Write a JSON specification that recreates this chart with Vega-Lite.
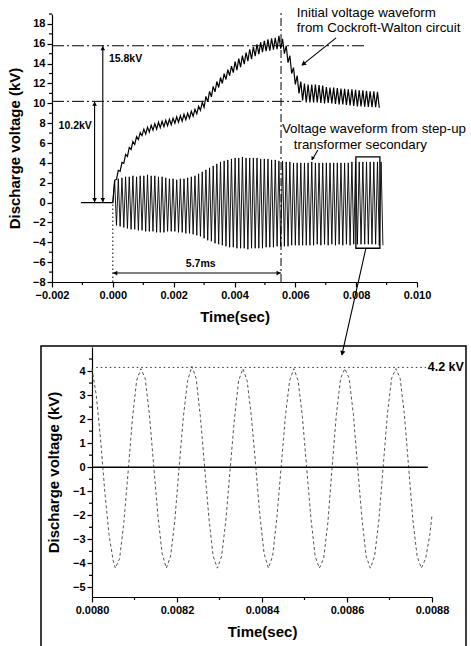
{
"$schema": "https://vega.github.io/schema/vega-lite/v6.json",
"padding": {"left": 7, "top": 6, "right": 0, "bottom": 0},
"config": {
  "font": "Liberation Sans",
  "view": {"stroke": null},
  "axis": {"domainColor": "black", "tickColor": "black", "labelColor": "black", "titleColor": "black", "labelFontSize": 11, "labelFontWeight": "bold", "titleFontSize": 15, "titleFontWeight": "bold", "grid": false, "labelFlush": false, "labelOverlap": false, "domainWidth": 1.2, "tickWidth": 1.2, "tickSize": 5, "labelPadding": 2}
},
"datasets": {
"top": [
{"t":-1.05,"c":0},{"t":0,"c":0,"r":0},
{"t":0.06,"c":2.25,"r":2.2},{"t":0.12,"c":2.35,"r":-2.3},{"t":0.18,"c":3.25,"r":2.4},{"t":0.24,"c":3.15,"r":-2.4},
{"t":0.3,"c":4.05,"r":2.5},{"t":0.36,"c":3.95,"r":-2.5},{"t":0.42,"c":4.85,"r":2.6},{"t":0.48,"c":4.65,"r":-2.6},
{"t":0.54,"c":5.55,"r":2.6},{"t":0.6,"c":5.35,"r":-2.7},{"t":0.66,"c":6.15,"r":2.7},{"t":0.72,"c":5.85,"r":-2.7},
{"t":0.78,"c":6.65,"r":2.6},{"t":0.84,"c":6.35,"r":-2.8},{"t":0.9,"c":7.05,"r":2.7},{"t":0.96,"c":6.75,"r":-2.8},
{"t":1.02,"c":7.4,"r":2.7},{"t":1.08,"c":6.9,"r":-2.9},{"t":1.14,"c":7.6,"r":2.8},{"t":1.2,"c":7.1,"r":-2.9},
{"t":1.26,"c":7.8,"r":2.7},{"t":1.32,"c":7.3,"r":-2.9},{"t":1.38,"c":7.95,"r":2.7},{"t":1.44,"c":7.4,"r":-3.0},
{"t":1.5,"c":8.1,"r":2.6},{"t":1.56,"c":7.55,"r":-3.0},{"t":1.62,"c":8.2,"r":2.6},{"t":1.68,"c":7.65,"r":-3.0},
{"t":1.74,"c":8.3,"r":2.5},{"t":1.8,"c":7.75,"r":-2.9},{"t":1.86,"c":8.4,"r":2.4},{"t":1.92,"c":7.85,"r":-2.9},
{"t":1.98,"c":8.5,"r":2.4},{"t":2.04,"c":8.0,"r":-2.9},{"t":2.1,"c":8.65,"r":2.3},{"t":2.16,"c":8.1,"r":-3.0},
{"t":2.22,"c":8.75,"r":2.4},{"t":2.28,"c":8.2,"r":-3.0},{"t":2.34,"c":8.9,"r":2.4},{"t":2.4,"c":8.35,"r":-3.1},
{"t":2.46,"c":9.0,"r":2.5},{"t":2.52,"c":8.5,"r":-3.1},{"t":2.58,"c":9.2,"r":2.6},{"t":2.64,"c":8.7,"r":-3.2},
{"t":2.7,"c":9.4,"r":2.7},{"t":2.76,"c":8.95,"r":-3.3},{"t":2.82,"c":9.7,"r":2.9},{"t":2.88,"c":9.3,"r":-3.4},
{"t":2.94,"c":10.1,"r":3.1},{"t":3.0,"c":9.6,"r":-3.6},{"t":3.06,"c":10.7,"r":3.3},{"t":3.12,"c":10.15,"r":-3.8},
{"t":3.18,"c":11.2,"r":3.5},{"t":3.24,"c":10.65,"r":-3.9},{"t":3.3,"c":11.7,"r":3.7},{"t":3.36,"c":11.15,"r":-4.1},
{"t":3.42,"c":12.2,"r":3.9},{"t":3.48,"c":11.6,"r":-4.2},{"t":3.54,"c":12.6,"r":4.1},{"t":3.6,"c":12.0,"r":-4.3},
{"t":3.66,"c":13.0,"r":4.2},{"t":3.72,"c":12.4,"r":-4.4},{"t":3.78,"c":13.4,"r":4.3},{"t":3.84,"c":12.8,"r":-4.5},
{"t":3.9,"c":13.75,"r":4.4},{"t":3.96,"c":13.1,"r":-4.5},{"t":4.02,"c":14.2,"r":4.5},{"t":4.08,"c":13.35,"r":-4.6},
{"t":4.14,"c":14.5,"r":4.5},{"t":4.2,"c":13.65,"r":-4.6},{"t":4.26,"c":14.8,"r":4.6},{"t":4.32,"c":13.95,"r":-4.6},
{"t":4.38,"c":15.1,"r":4.5},{"t":4.44,"c":14.25,"r":-4.7},{"t":4.5,"c":15.45,"r":4.5},{"t":4.56,"c":14.45,"r":-4.6},
{"t":4.62,"c":15.7,"r":4.5},{"t":4.68,"c":14.75,"r":-4.6},{"t":4.74,"c":15.95,"r":4.5},{"t":4.8,"c":14.95,"r":-4.6},
{"t":4.86,"c":16.15,"r":4.4},{"t":4.92,"c":15.15,"r":-4.6},{"t":4.98,"c":16.3,"r":4.4},{"t":5.04,"c":15.25,"r":-4.5},
{"t":5.1,"c":16.45,"r":4.4},{"t":5.16,"c":15.3,"r":-4.5},{"t":5.22,"c":16.55,"r":4.3},{"t":5.28,"c":15.4,"r":-4.5},
{"t":5.34,"c":16.6,"r":4.3},{"t":5.4,"c":15.45,"r":-4.4},{"t":5.46,"c":16.8,"r":4.2},{"t":5.52,"c":15.5,"r":-4.4},
{"t":5.58,"c":16.5,"r":4.2},{"t":5.64,"c":15.0,"r":-4.4},{"t":5.7,"c":15.8,"r":4.1},{"t":5.76,"c":14.1,"r":-4.4},
{"t":5.82,"c":14.8,"r":4.1},{"t":5.88,"c":13.0,"r":-4.3},{"t":5.94,"c":13.6,"r":4.0},{"t":6.0,"c":11.9,"r":-4.3},
{"t":6.06,"c":12.8,"r":4.0},{"t":6.12,"c":11.0,"r":-4.3},{"t":6.18,"c":12.2,"r":4.0},{"t":6.24,"c":10.3,"r":-4.3},
{"t":6.3,"c":12.0,"r":4.0},{"t":6.36,"c":10.1,"r":-4.3},{"t":6.42,"c":11.9,"r":4.0},{"t":6.48,"c":10.1,"r":-4.3},
{"t":6.54,"c":11.9,"r":4.1},{"t":6.6,"c":10.1,"r":-4.3},{"t":6.66,"c":11.9,"r":4.0},{"t":6.72,"c":10.1,"r":-4.2},
{"t":6.78,"c":11.85,"r":4.0},{"t":6.84,"c":10.05,"r":-4.3},{"t":6.9,"c":11.8,"r":4.0},{"t":6.96,"c":10.0,"r":-4.2},
{"t":7.02,"c":11.65,"r":4.0},{"t":7.08,"c":10.05,"r":-4.3},{"t":7.14,"c":11.6,"r":4.0},{"t":7.2,"c":10.0,"r":-4.2},
{"t":7.26,"c":11.6,"r":4.0},{"t":7.32,"c":9.95,"r":-4.3},{"t":7.38,"c":11.55,"r":4.0},{"t":7.44,"c":9.9,"r":-4.2},
{"t":7.5,"c":11.5,"r":4.0},{"t":7.56,"c":9.9,"r":-4.3},{"t":7.62,"c":11.45,"r":4.0},{"t":7.68,"c":9.85,"r":-4.2},
{"t":7.74,"c":11.4,"r":4.0},{"t":7.8,"c":9.8,"r":-4.3},{"t":7.86,"c":11.4,"r":4.1},{"t":7.92,"c":9.75,"r":-4.2},
{"t":7.98,"c":11.35,"r":4.1},{"t":8.04,"c":9.7,"r":-4.2},{"t":8.1,"c":11.3,"r":4.1},{"t":8.16,"c":9.7,"r":-4.2},
{"t":8.22,"c":11.3,"r":4.1},{"t":8.28,"c":9.65,"r":-4.2},{"t":8.34,"c":11.25,"r":4.1},{"t":8.4,"c":9.65,"r":-4.2},
{"t":8.46,"c":11.2,"r":4.1},{"t":8.52,"c":9.6,"r":-4.2},{"t":8.58,"c":11.2,"r":4.1},{"t":8.64,"c":9.6,"r":-4.2},
{"t":8.7,"c":11.15,"r":4.1},{"t":8.76,"c":9.55,"r":-4.3},{"t":8.82,"r":4.1},{"t":8.88,"r":-4.3}
],
"bot": [
{"t":8.0,"v":4.1},{"t":8.01,"v":3.0},{"t":8.02,"v":1.2},{"t":8.03,"v":-1.0},{"t":8.04,"v":-2.8},{"t":8.05,"v":-3.9},
{"t":8.055,"v":-4.2},{"t":8.065,"v":-3.8},{"t":8.075,"v":-2.3},{"t":8.085,"v":-0.2},{"t":8.095,"v":2.0},{"t":8.105,"v":3.6},
{"t":8.115,"v":4.1},{"t":8.125,"v":3.7},{"t":8.135,"v":2.2},{"t":8.145,"v":0.1},{"t":8.155,"v":-2.0},{"t":8.165,"v":-3.6},
{"t":8.175,"v":-4.2},{"t":8.185,"v":-3.7},{"t":8.195,"v":-2.2},{"t":8.205,"v":0},{"t":8.215,"v":2.1},{"t":8.225,"v":3.6},
{"t":8.235,"v":4.2},{"t":8.245,"v":3.7},{"t":8.255,"v":2.1},{"t":8.265,"v":0},{"t":8.275,"v":-2.1},{"t":8.285,"v":-3.7},
{"t":8.295,"v":-4.2},{"t":8.305,"v":-3.7},{"t":8.315,"v":-2.2},{"t":8.325,"v":-0.1},{"t":8.335,"v":2.0},{"t":8.345,"v":3.6},
{"t":8.355,"v":4.1},{"t":8.365,"v":3.6},{"t":8.375,"v":2.1},{"t":8.385,"v":0.1},{"t":8.395,"v":-2.0},{"t":8.405,"v":-3.6},
{"t":8.415,"v":-4.2},{"t":8.425,"v":-3.7},{"t":8.435,"v":-2.1},{"t":8.445,"v":0},{"t":8.455,"v":2.1},{"t":8.465,"v":3.6},
{"t":8.475,"v":4.1},{"t":8.485,"v":3.6},{"t":8.495,"v":2.1},{"t":8.505,"v":0},{"t":8.515,"v":-2.1},{"t":8.525,"v":-3.7},
{"t":8.535,"v":-4.2},{"t":8.545,"v":-3.8},{"t":8.555,"v":-2.3},{"t":8.565,"v":0},{"t":8.575,"v":2.2},{"t":8.585,"v":3.7},
{"t":8.595,"v":4.1},{"t":8.605,"v":3.7},{"t":8.615,"v":2.2},{"t":8.625,"v":0},{"t":8.635,"v":-2.1},{"t":8.645,"v":-3.7},
{"t":8.655,"v":-4.2},{"t":8.665,"v":-3.7},{"t":8.675,"v":-2.2},{"t":8.685,"v":0},{"t":8.695,"v":2.2},{"t":8.705,"v":3.7},
{"t":8.715,"v":4.1},{"t":8.725,"v":3.7},{"t":8.735,"v":2.2},{"t":8.745,"v":0},{"t":8.755,"v":-2.2},{"t":8.765,"v":-3.7},
{"t":8.775,"v":-4.2},{"t":8.785,"v":-3.8},{"t":8.795,"v":-2.8},{"t":8.8,"v":-2.0}
]
},
"spacing": 65,
"bounds": "flush",
"vconcat": [
{
 "width": 365, "height": 268,
 "layer": [
  {"data": {"name": "top"}, "mark": {"type": "line", "color": "black", "strokeWidth": 1.2},
   "encoding": {
    "x": {"field": "t", "type": "quantitative", "title": "Time(sec)", "scale": {"domain": [-2, 10], "nice": false, "zero": false},
      "axis": {"values": [-2,0,2,4,6,8,10], "tickCount": 50, "labelExpr": "format(datum.value/1000, '.3f')", "titlePadding": 9}},
    "y": {"field": "c", "type": "quantitative", "title": "Discharge voltage (kV)", "scale": {"domain": [-8, 19], "nice": false, "zero": false},
      "axis": {"values": [-8,-6,-4,-2,0,2,4,6,8,10,12,14,16,18], "tickCount": 50, "format": "d", "titlePadding": 10}}
   }},
  {"data": {"name": "top"}, "mark": {"type": "line", "color": "black", "strokeWidth": 0.9},
   "encoding": {"x": {"field": "t", "type": "quantitative", "title": "Time(sec)"}, "y": {"field": "r", "type": "quantitative", "title": "Discharge voltage (kV)"}}},
  {"data": {"values": [{"m": -7}, {"m": -5}, {"m": -3}, {"m": -1}, {"m": 1}, {"m": 3}, {"m": 5}, {"m": 7}, {"m": 9}, {"m": 11}, {"m": 13}, {"m": 15}, {"m": 17}, {"m": 19}]},
   "mark": {"type": "tick", "orient": "horizontal", "size": 3, "thickness": 1.2, "color": "black", "opacity": 1, "xOffset": -1.5, "clip": false},
   "encoding": {"x": {"datum": -2, "type": "quantitative", "title": "Time(sec)"}, "y": {"field": "m", "type": "quantitative", "title": "Discharge voltage (kV)"}}},
  {"data": {"values": [{"m": -1}, {"m": 1}, {"m": 3}, {"m": 5}, {"m": 7}, {"m": 9}]},
   "mark": {"type": "tick", "orient": "vertical", "size": 3, "thickness": 1.2, "color": "black", "opacity": 1, "yOffset": 1.5, "clip": false},
   "encoding": {"x": {"field": "m", "type": "quantitative", "title": "Time(sec)"}, "y": {"datum": -8, "type": "quantitative", "title": "Discharge voltage (kV)"}}},
  {"data": {"values": [{"x1": -2, "x2": 8.26, "y": 15.8}, {"x1": -2, "x2": 6.2, "y": 10.2}]},
   "mark": {"type": "rule", "color": "black", "strokeWidth": 1, "strokeDash": [12, 3, 2, 3]},
   "encoding": {"x": {"field": "x1", "type": "quantitative", "title": "Time(sec)"}, "x2": {"field": "x2"}, "y": {"field": "y", "type": "quantitative", "title": "Discharge voltage (kV)"}}},
  {"data": {"values": [{"x": 5.53, "y1": -8, "y2": 19.1}]},
   "mark": {"type": "rule", "color": "black", "strokeWidth": 1, "strokeDash": [8, 3, 2, 3], "clip": false},
   "encoding": {"x": {"field": "x", "type": "quantitative", "title": "Time(sec)"}, "y": {"field": "y1", "type": "quantitative", "title": "Discharge voltage (kV)"}, "y2": {"field": "y2"}}},
  {"data": {"values": [{"x": 0, "y1": -8, "y2": 0}]},
   "mark": {"type": "rule", "color": "black", "strokeWidth": 1, "strokeDash": [1.5, 2.5]},
   "encoding": {"x": {"field": "x", "type": "quantitative", "title": "Time(sec)"}, "y": {"field": "y1", "type": "quantitative", "title": "Discharge voltage (kV)"}, "y2": {"field": "y2"}}},
  {"data": {"values": [
     {"x1": -0.6, "y1": 0, "x2": -0.6, "y2": 10.2},
     {"x1": -0.33, "y1": 0, "x2": -0.33, "y2": 15.8},
     {"x1": 0, "y1": -7.1, "x2": 5.53, "y2": -7.1},
     {"x1": 7.34, "y1": 16.6, "x2": 6.22, "y2": 13.85},
     {"x1": 6.74, "y1": 5.3, "x2": 6.55, "y2": 4.3},
     {"x1": 8.32, "y1": -4.6, "x2": 7.53, "y2": -15.35}]},
   "mark": {"type": "rule", "color": "black", "strokeWidth": 1.1, "clip": false},
   "encoding": {"x": {"field": "x1", "type": "quantitative", "title": "Time(sec)"}, "x2": {"field": "x2"}, "y": {"field": "y1", "type": "quantitative", "title": "Discharge voltage (kV)"}, "y2": {"field": "y2"}}},
  {"data": {"values": [{"x": -0.6, "y": 9.95}, {"x": -0.33, "y": 15.55}]},
   "mark": {"type": "point", "shape": "triangle-up", "filled": true, "size": 22, "color": "black", "opacity": 1},
   "encoding": {"x": {"field": "x", "type": "quantitative", "title": "Time(sec)"}, "y": {"field": "y", "type": "quantitative", "title": "Discharge voltage (kV)"}}},
  {"data": {"values": [{"x": -0.6, "y": 0.25}, {"x": -0.33, "y": 0.25}]},
   "mark": {"type": "point", "shape": "triangle-down", "filled": true, "size": 22, "color": "black", "opacity": 1},
   "encoding": {"x": {"field": "x", "type": "quantitative", "title": "Time(sec)"}, "y": {"field": "y", "type": "quantitative", "title": "Discharge voltage (kV)"}}},
  {"data": {"values": [{"x": 0.08, "y": -7.1}]},
   "mark": {"type": "point", "shape": "triangle-left", "filled": true, "size": 22, "color": "black", "opacity": 1},
   "encoding": {"x": {"field": "x", "type": "quantitative", "title": "Time(sec)"}, "y": {"field": "y", "type": "quantitative", "title": "Discharge voltage (kV)"}}},
  {"data": {"values": [{"x": 5.45, "y": -7.1}]},
   "mark": {"type": "point", "shape": "triangle-right", "filled": true, "size": 22, "color": "black", "opacity": 1},
   "encoding": {"x": {"field": "x", "type": "quantitative", "title": "Time(sec)"}, "y": {"field": "y", "type": "quantitative", "title": "Discharge voltage (kV)"}}},
  {"data": {"values": [{"x": 6.28, "y": 14.0}]},
   "mark": {"type": "point", "shape": "triangle", "angle": 231, "filled": true, "size": 28, "color": "black", "opacity": 1},
   "encoding": {"x": {"field": "x", "type": "quantitative", "title": "Time(sec)"}, "y": {"field": "y", "type": "quantitative", "title": "Discharge voltage (kV)"}}},
  {"data": {"values": [{"x": 6.57, "y": 4.5}]},
   "mark": {"type": "point", "shape": "triangle", "angle": 210, "filled": true, "size": 16, "color": "black", "opacity": 1},
   "encoding": {"x": {"field": "x", "type": "quantitative", "title": "Time(sec)"}, "y": {"field": "y", "type": "quantitative", "title": "Discharge voltage (kV)"}}},
  {"data": {"values": [{"x": 7.55, "y": -15.1}]},
   "mark": {"type": "point", "shape": "triangle", "angle": 193, "filled": true, "size": 28, "color": "black", "opacity": 1, "clip": false},
   "encoding": {"x": {"field": "x", "type": "quantitative", "title": "Time(sec)"}, "y": {"field": "y", "type": "quantitative", "title": "Discharge voltage (kV)"}}},
  {"data": {"values": [{"x1": 7.99, "x2": 8.78, "y1": -4.6, "y2": 4.6}]},
   "mark": {"type": "rect", "fillOpacity": 0, "stroke": "black", "strokeWidth": 1.3},
   "encoding": {"x": {"field": "x1", "type": "quantitative", "title": "Time(sec)"}, "x2": {"field": "x2"}, "y": {"field": "y1", "type": "quantitative", "title": "Discharge voltage (kV)"}, "y2": {"field": "y2"}}},
  {"data": {"values": [{"x": -0.13, "y": 14.46, "s": "15.8kV"}, {"x": 2.4, "y": -6.2, "s": "5.7ms"}]},
   "mark": {"type": "text", "align": "left", "baseline": "middle", "fontSize": 10.5, "fontWeight": "bold", "color": "black"},
   "encoding": {"x": {"field": "x", "type": "quantitative", "title": "Time(sec)"}, "y": {"field": "y", "type": "quantitative", "title": "Discharge voltage (kV)"}, "text": {"field": "s"}}},
  {"data": {"values": [{"x": -0.69, "y": 7.7, "s": "10.2kV"}]},
   "mark": {"type": "text", "align": "right", "baseline": "middle", "fontSize": 10.5, "fontWeight": "bold", "color": "black"},
   "encoding": {"x": {"field": "x", "type": "quantitative", "title": "Time(sec)"}, "y": {"field": "y", "type": "quantitative", "title": "Discharge voltage (kV)"}, "text": {"field": "s"}}},
  {"data": {"values": [
     {"x": 6.05, "y": 19.1, "s": "Initial voltage waveform"},
     {"x": 6.05, "y": 17.6, "s": "from Cockroft-Walton circuit"},
     {"x": 5.56, "y": 7.4, "s": "Voltage waveform from step-up"},
     {"x": 5.95, "y": 5.8, "s": "transformer secondary"}]},
   "mark": {"type": "text", "align": "left", "baseline": "middle", "fontSize": 13.3, "color": "black"},
   "encoding": {"x": {"field": "x", "type": "quantitative", "title": "Time(sec)"}, "y": {"field": "y", "type": "quantitative", "title": "Discharge voltage (kV)"}, "text": {"field": "s"}}}
 ]
},
{
 "hconcat": [
  {"width": 40, "height": 250, "data": {"values": [{}]}, "mark": {"type": "point", "opacity": 0}},
  {
   "width": 340, "height": 250,
   "layer": [
    {"data": {"name": "bot"}, "mark": {"type": "line", "color": "#555", "strokeWidth": 1, "strokeDash": [3, 2.5]},
     "encoding": {
      "x": {"field": "t", "type": "quantitative", "title": "Time(sec)", "scale": {"domain": [8.0, 8.8], "nice": false, "zero": false},
        "axis": {"values": [8.0,8.2,8.4,8.6,8.8], "tickCount": 50, "labelExpr": "format(datum.value/1000, '.4f')", "titlePadding": 9}},
      "y": {"field": "v", "type": "quantitative", "title": "Discharge voltage (kV)", "scale": {"domain": [-5.4, 5.0], "nice": false, "zero": false},
        "axis": {"values": [-5,-4,-3,-2,-1,0,1,2,3,4], "tickCount": 50, "format": "d", "titlePadding": 11}}
     }},
    {"data": {"values": [{"m": -4.5}, {"m": -3.5}, {"m": -2.5}, {"m": -1.5}, {"m": -0.5}, {"m": 0.5}, {"m": 1.5}, {"m": 2.5}, {"m": 3.5}, {"m": 4.5}]},
     "mark": {"type": "tick", "orient": "horizontal", "size": 3, "thickness": 1.2, "color": "black", "opacity": 1, "xOffset": -1.5, "clip": false},
     "encoding": {"x": {"datum": 8.0, "type": "quantitative", "title": "Time(sec)"}, "y": {"field": "m", "type": "quantitative", "title": "Discharge voltage (kV)"}}},
    {"data": {"values": [{"m": 8.1}, {"m": 8.3}, {"m": 8.5}, {"m": 8.7}]},
     "mark": {"type": "tick", "orient": "vertical", "size": 3, "thickness": 1.2, "color": "black", "opacity": 1, "yOffset": 1.5, "clip": false},
     "encoding": {"x": {"field": "m", "type": "quantitative", "title": "Time(sec)"}, "y": {"datum": -5.4, "type": "quantitative", "title": "Discharge voltage (kV)"}}},
    {"data": {"values": [{"x1": 8.0, "x2": 8.79, "y": 0}]},
     "mark": {"type": "rule", "color": "black", "strokeWidth": 1.6},
     "encoding": {"x": {"field": "x1", "type": "quantitative", "title": "Time(sec)"}, "x2": {"field": "x2"}, "y": {"field": "y", "type": "quantitative", "title": "Discharge voltage (kV)"}}},
    {"data": {"values": [{"x1": 8.01, "x2": 8.786, "y": 4.15}]},
     "mark": {"type": "rule", "color": "#333", "strokeWidth": 1, "strokeDash": [1.5, 3]},
     "encoding": {"x": {"field": "x1", "type": "quantitative", "title": "Time(sec)"}, "x2": {"field": "x2"}, "y": {"field": "y", "type": "quantitative", "title": "Discharge voltage (kV)"}}},
    {"data": {"values": [{"x": 8.875, "y": 4.15, "s": "4.2 kV"}]},
     "mark": {"type": "text", "align": "right", "baseline": "middle", "fontSize": 12.5, "fontWeight": "bold", "color": "black"},
     "encoding": {"x": {"field": "x", "type": "quantitative", "title": "Time(sec)"}, "y": {"field": "y", "type": "quantitative", "title": "Discharge voltage (kV)"}, "text": {"field": "s"}}},
    {"data": {"values": [{"x1": 7.88, "x2": 8.88, "y1": -8, "y2": 5.04}]},
     "mark": {"type": "rect", "fillOpacity": 0, "stroke": "black", "strokeWidth": 1.5, "clip": false},
     "encoding": {"x": {"field": "x1", "type": "quantitative", "title": "Time(sec)"}, "x2": {"field": "x2"}, "y": {"field": "y1", "type": "quantitative", "title": "Discharge voltage (kV)"}, "y2": {"field": "y2"}}}
   ]
  }
 ],
 "spacing": 0,
 "bounds": "flush"
}
]
}
